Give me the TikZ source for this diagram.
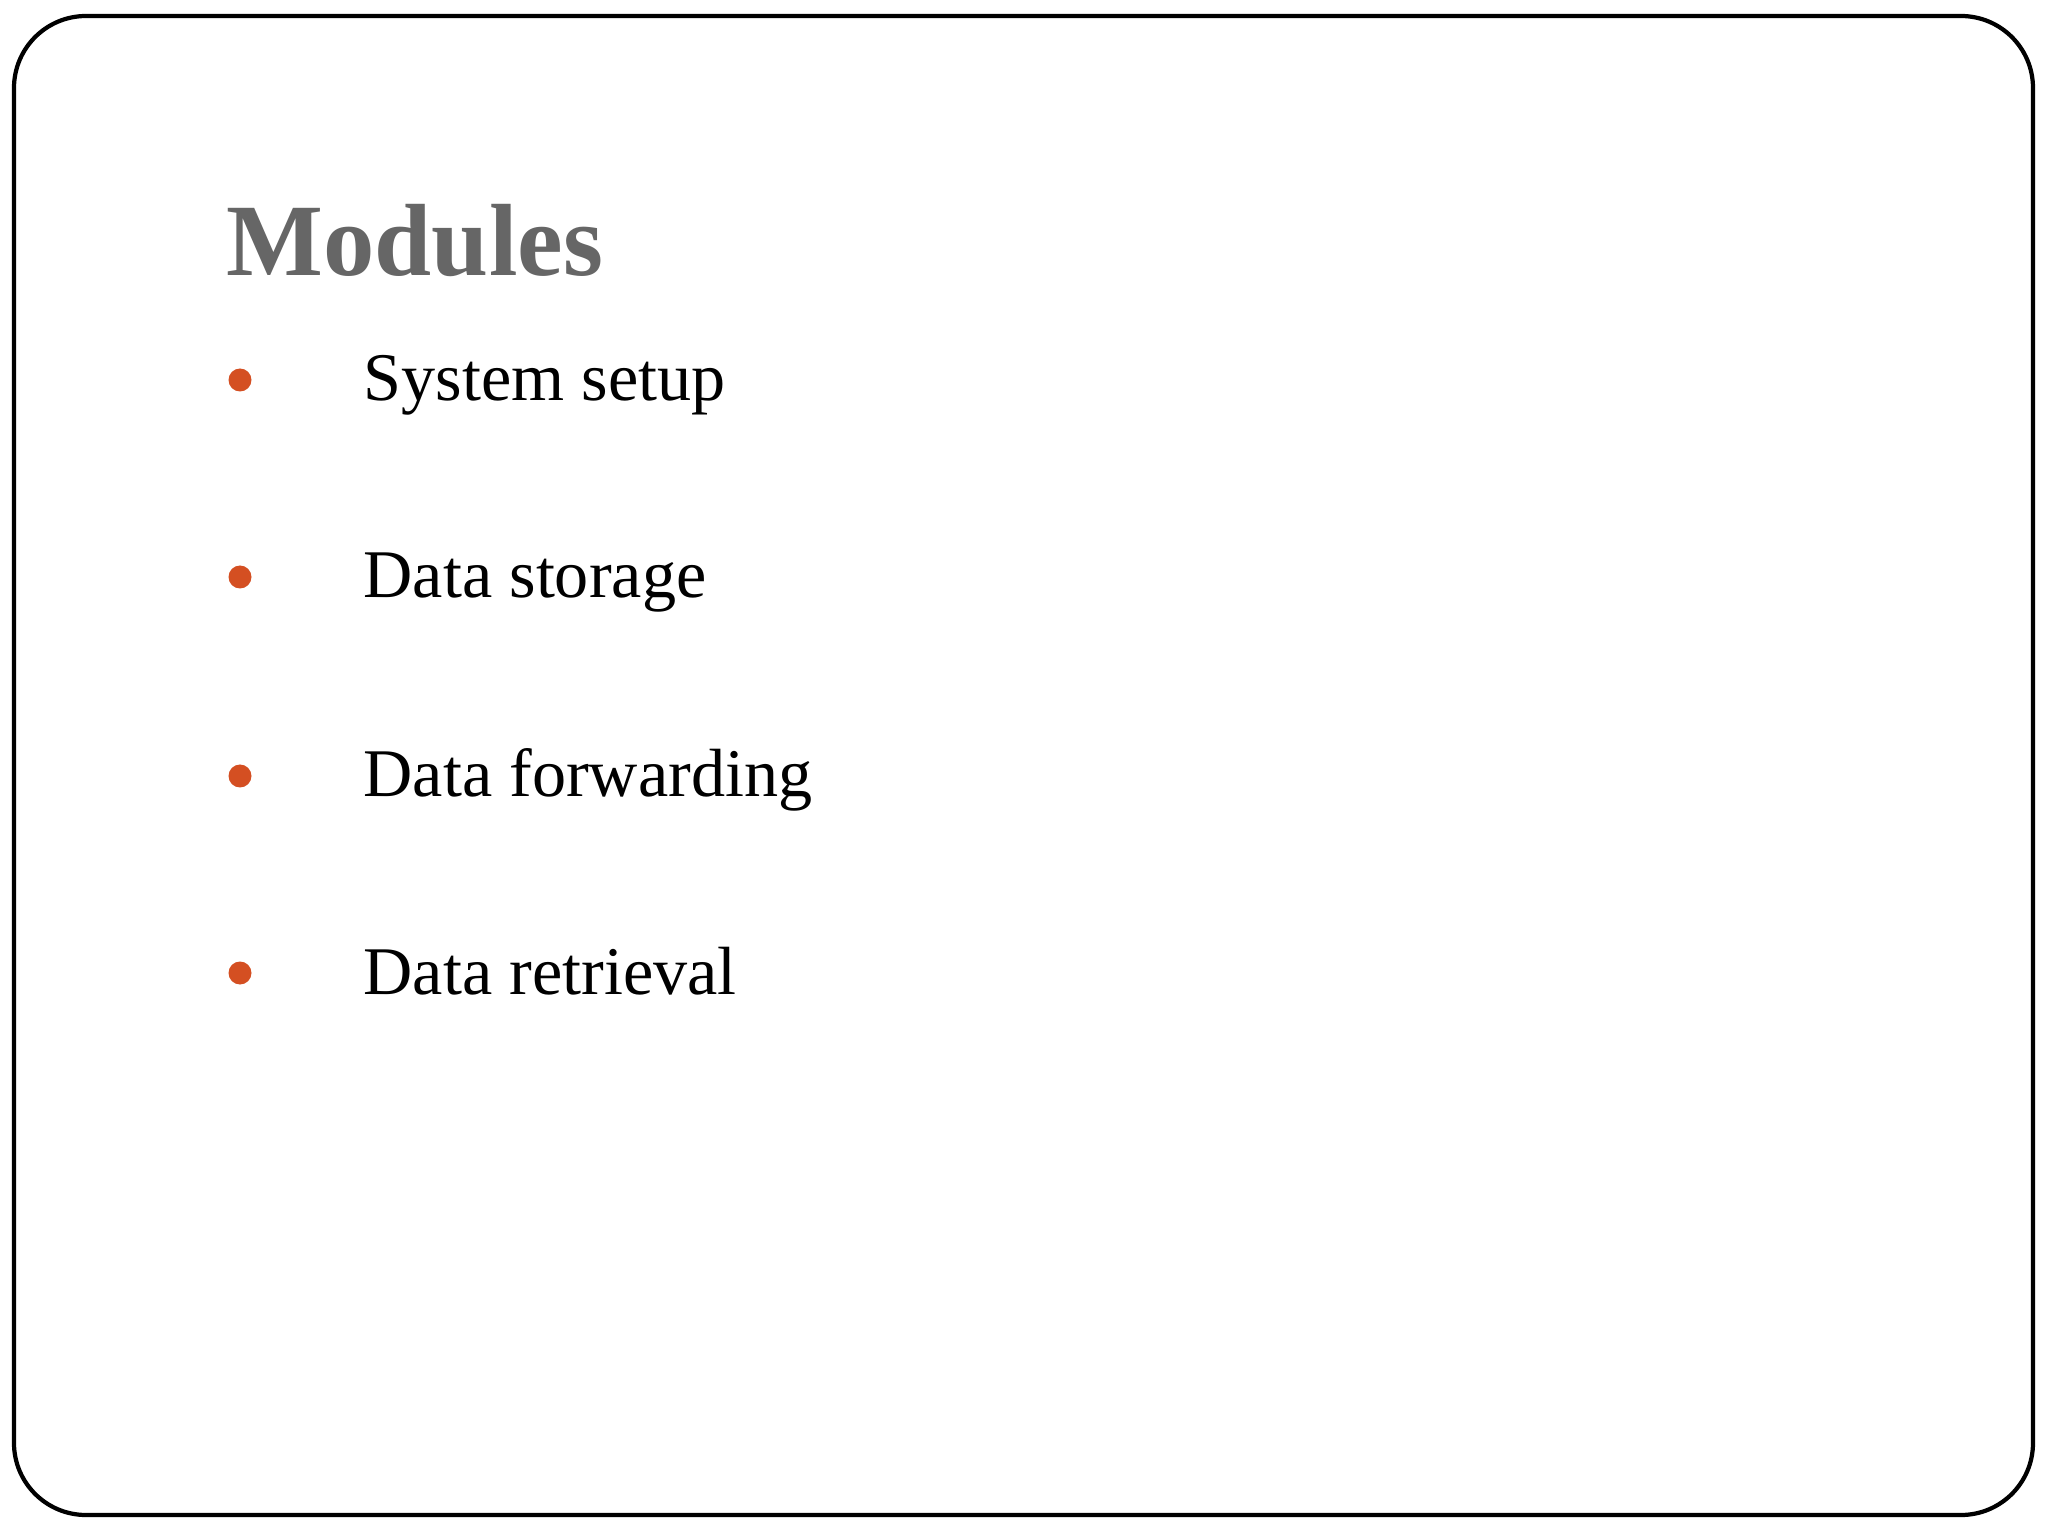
\documentclass[tikz,border=0pt]{standalone}
\usepackage{fontspec}
\setmainfont{Liberation Serif}
\definecolor{titlegray}{HTML}{666666}
\definecolor{bulletred}{HTML}{D44F22}
\tikzset{
  bulletdot/.style={circle,fill=bulletred,inner sep=0pt,minimum size=0.23cm},
  itemtext/.style={anchor=base west,inner sep=0pt,font=\fontsize{19.4}{23}\selectfont}
}
\begin{document}
\begin{tikzpicture}
\useasboundingbox (0,0) rectangle (20.48,-15.36);
\fill[white] (0,0) rectangle (20.48,-15.36);
\draw[line width=1.2pt,rounded corners=0.72cm] (0.14,-0.16) rectangle (20.33,-15.15);
\node[anchor=base west,inner sep=0pt,text=titlegray,font=\bfseries\fontsize{29.2}{34}\selectfont] (title) at (2.26,-2.76) {Modules};
\foreach \i/\y/\t in {1/3.80/System setup,2/5.77/Data storage,3/7.76/Data forwarding,4/9.73/Data retrieval}{
  \node[bulletdot] (b\i) at (2.40,-\y) {};
  \node[itemtext] (t\i) at (3.63,-\y-0.21) {\t};
}
\end{tikzpicture}
\end{document}
